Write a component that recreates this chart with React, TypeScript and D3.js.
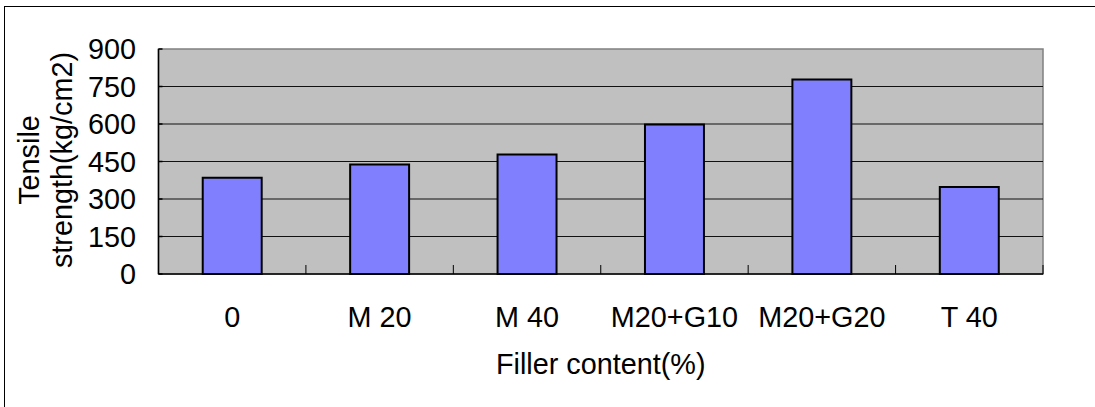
import React from "react";
import * as d3 from "d3";

const categories = ["0", "M 20", "M 40", "M20+G10", "M20+G20", "T 40"];
const tensile = [385, 438, 478, 598, 778, 348];
const yTicks = [0, 150, 300, 450, 600, 750, 900];
const xTitle = "Filler content(%)";
const yTitle = ["Tensile", "strength(kg/cm2)"];

const W = 1095;
const H = 407;
const left = 158.5;
const right = 1043;
const top = 49;
const bottom = 274;
const FONT = "'Liberation Sans', Arial, sans-serif";
const FS = 28.8;

export default function App() {
  const x = d3
    .scaleBand<string>()
    .domain(categories)
    .range([left, right])
    .paddingInner(0.6)
    .paddingOuter(0.3);
  const y = d3.scaleLinear().domain([0, 900]).range([bottom, top]);
  const step = x.step();
  const boundaries = categories.map((c) => (x(c) as number) + x.bandwidth() + (step * 0.6) / 2);

  return (
    <svg
      width={W}
      height={H}
      style={{ position: "absolute", left: 0, top: 0, background: "#fff" }}
      fontFamily={FONT}
    >
      <rect x={0} y={0} width={W} height={H} fill="#fff" />
      {/* outer frame (top & left visible) */}
      <line x1={4.5} y1={6} x2={4.5} y2={H} stroke="#000" strokeWidth={1} />
      <line x1={4} y1={6.5} x2={W} y2={6.5} stroke="#000" strokeWidth={1} />

      {/* plot area */}
      <rect
        x={left}
        y={top}
        width={right - left}
        height={bottom - top}
        fill="#C0C0C0"
        stroke="#808080"
        strokeWidth={1.5}
      />
      {yTicks
        .filter((t) => t > 0 && t < 900)
        .map((t) => (
          <line key={t} x1={left} x2={right} y1={y(t)} y2={y(t)} stroke="#111" strokeWidth={1} />
        ))}

      {/* bars */}
      {categories.map((c, i) => (
        <rect
          key={c}
          x={x(c) as number}
          y={y(tensile[i])}
          width={x.bandwidth()}
          height={y(0) - y(tensile[i])}
          fill="#8080FF"
          stroke="#000"
          strokeWidth={2}
        />
      ))}

      {/* axes */}
      <line x1={left} x2={left} y1={top} y2={bottom} stroke="#000" strokeWidth={1.5} />
      <line x1={left} x2={right} y1={bottom} y2={bottom} stroke="#000" strokeWidth={1.5} />
      {yTicks.map((t) => (
        <line key={"yt" + t} x1={left} x2={left + 4} y1={y(t)} y2={y(t)} stroke="#000" strokeWidth={1.5} />
      ))}
      {boundaries.map((b, i) => (
        <line key={"xt" + i} x1={b} x2={b} y1={bottom} y2={bottom - 9} stroke="#000" strokeWidth={1} />
      ))}

      {/* y tick labels */}
      {yTicks.map((t) => (
        <text key={"yl" + t} x={136} y={y(t) + 0.358 * FS} fontSize={FS} textAnchor="end" fill="#000">
          {t}
        </text>
      ))}

      {/* x tick labels */}
      {categories.map((c) => (
        <text
          key={"xl" + c}
          x={(x(c) as number) + x.bandwidth() / 2}
          y={327}
          fontSize={FS}
          textAnchor="middle"
          fill="#000"
        >
          {c}
        </text>
      ))}

      {/* titles */}
      <text x={(left + right) / 2} y={374} fontSize={FS} textAnchor="middle" fill="#000">
        {xTitle}
      </text>
      <text transform="translate(39,160) rotate(-90)" fontSize={FS} textAnchor="middle" fill="#000">
        {yTitle[0]}
      </text>
      <text transform="translate(72,160) rotate(-90)" fontSize={FS} textAnchor="middle" fill="#000">
        {yTitle[1]}
      </text>
    </svg>
  );
}
